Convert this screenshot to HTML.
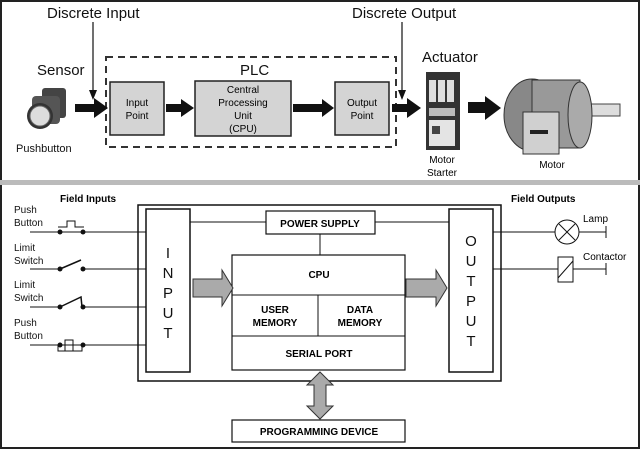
<!DOCTYPE html>
<html><head><style>
html,body{margin:0;padding:0;background:#fff;}
svg{display:block;font-family:"Liberation Sans",Arial,sans-serif;}
</style></head><body>
<svg width="640" height="449" viewBox="0 0 640 449" xmlns="http://www.w3.org/2000/svg">
<rect x="0" y="0" width="640" height="449" fill="#fff"/>
<rect x="1" y="1" width="638" height="447" fill="none" stroke="#222" stroke-width="2"/>
<rect x="0" y="180" width="640" height="5" fill="#bbb"/>
<!-- TOP PANEL -->
<text x="47" y="18" font-size="15" fill="#111">Discrete Input</text>
<text x="352" y="18" font-size="15" fill="#111">Discrete Output</text>
<line x1="93" y1="22" x2="93" y2="96" stroke="#111" stroke-width="1.2"/>
<polygon points="89,90 97,90 93,100" fill="#111"/>
<line x1="402" y1="22" x2="402" y2="96" stroke="#111" stroke-width="1.2"/>
<polygon points="398,90 406,90 402,100" fill="#111"/>
<text x="37" y="75" font-size="15" fill="#111">Sensor</text>
<text x="422" y="62" font-size="15" fill="#111">Actuator</text>
<text x="240" y="75" font-size="15" fill="#111">PLC</text>
<rect x="106" y="57" width="290" height="90" fill="none" stroke="#333" stroke-width="2" stroke-dasharray="7,5"/>
<rect x="110" y="82" width="54" height="53" fill="#d4d4d4" stroke="#222" stroke-width="1.5"/>
<text x="137" y="106" font-size="10" text-anchor="middle">Input</text>
<text x="137" y="119" font-size="10" text-anchor="middle">Point</text>
<rect x="195" y="81" width="96" height="55" fill="#d4d4d4" stroke="#222" stroke-width="1.5"/>
<text x="243" y="93" font-size="10" text-anchor="middle">Central</text>
<text x="243" y="106" font-size="10" text-anchor="middle">Processing</text>
<text x="243" y="119" font-size="10" text-anchor="middle">Unit</text>
<text x="243" y="132" font-size="10" text-anchor="middle">(CPU)</text>
<rect x="335" y="82" width="54" height="53" fill="#d4d4d4" stroke="#222" stroke-width="1.5"/>
<text x="362" y="106" font-size="10" text-anchor="middle">Output</text>
<text x="362" y="119" font-size="10" text-anchor="middle">Point</text>
<g fill="#111">
<rect x="75" y="104" width="20" height="8"/><polygon points="94,98 108,108 94,118"/>
<rect x="166" y="104" width="16" height="8"/><polygon points="181,99 194,108 181,117"/>
<rect x="293" y="104" width="30" height="8"/><polygon points="322,99 334,108 322,117"/>
<rect x="392" y="104" width="16" height="8"/><polygon points="407,98 421,108 407,118"/>
<rect x="468" y="102" width="18" height="11"/><polygon points="485,96 501,108 485,120"/>
</g>
<!-- pushbutton -->
<rect x="42" y="88" width="24" height="30" rx="3" fill="#444"/>
<rect x="32" y="96" width="28" height="28" rx="4" fill="#555"/>
<circle cx="40" cy="116" r="13" fill="#333"/>
<circle cx="40" cy="116" r="10" fill="#ddd" stroke="#666"/>
<text x="16" y="152" font-size="11" fill="#111">Pushbutton</text>
<!-- motor starter -->
<rect x="426" y="72" width="34" height="78" fill="#333"/>
<rect x="429" y="80" width="7" height="22" fill="#ddd"/>
<rect x="438" y="80" width="7" height="22" fill="#ddd"/>
<rect x="447" y="80" width="7" height="22" fill="#ddd"/>
<rect x="429" y="108" width="26" height="8" fill="#bbb"/>
<rect x="429" y="120" width="26" height="26" fill="#e4e4e4"/>
<rect x="432" y="126" width="8" height="8" fill="#444"/>
<text x="442" y="163" font-size="10" text-anchor="middle">Motor</text>
<text x="442" y="176" font-size="10" text-anchor="middle">Starter</text>
<!-- motor -->
<rect x="580" y="104" width="40" height="12" fill="#ddd" stroke="#444"/>
<ellipse cx="532" cy="115" rx="28" ry="36" fill="#888" stroke="#333"/>
<rect x="532" y="80" width="48" height="68" fill="#999" stroke="#333"/>
<ellipse cx="580" cy="115" rx="12" ry="33" fill="#aaa" stroke="#333"/>
<rect x="523" y="112" width="36" height="42" fill="#d0d0d0" stroke="#333"/>
<rect x="530" y="130" width="18" height="4" fill="#222"/>
<text x="552" y="168" font-size="10" text-anchor="middle">Motor</text>
<!-- BOTTOM PANEL -->
<text x="60" y="202" font-size="10" font-weight="bold">Field Inputs</text>
<text x="511" y="202" font-size="10" font-weight="bold">Field Outputs</text>
<rect x="138" y="205" width="363" height="176" fill="none" stroke="#111" stroke-width="1.5"/>
<rect x="146" y="209" width="44" height="163" fill="none" stroke="#111" stroke-width="1.5"/>
<rect x="449" y="209" width="44" height="163" fill="none" stroke="#111" stroke-width="1.5"/>
<g font-size="15" text-anchor="middle" fill="#111">
<text x="168" y="258">I</text><text x="168" y="278">N</text><text x="168" y="298">P</text><text x="168" y="318">U</text><text x="168" y="338">T</text>
<text x="471" y="246">O</text><text x="471" y="266">U</text><text x="471" y="286">T</text><text x="471" y="306">P</text><text x="471" y="326">U</text><text x="471" y="346">T</text>
</g>
<g stroke="#111" stroke-width="1" fill="none">
<line x1="190" y1="222" x2="266" y2="222"/><line x1="375" y1="222" x2="449" y2="222"/>
<line x1="320" y1="234" x2="320" y2="255"/>
</g>
<rect x="266" y="211" width="109" height="23" fill="#fff" stroke="#111" stroke-width="1.2"/>
<text x="320" y="227" font-size="10" font-weight="bold" text-anchor="middle">POWER SUPPLY</text>
<rect x="232" y="255" width="173" height="115" fill="#fff" stroke="#111" stroke-width="1.2"/>
<line x1="232" y1="295" x2="405" y2="295" stroke="#111"/>
<line x1="232" y1="336" x2="405" y2="336" stroke="#111"/>
<line x1="318" y1="295" x2="318" y2="336" stroke="#111"/>
<g font-size="10" font-weight="bold" text-anchor="middle">
<text x="319" y="278">CPU</text>
<text x="275" y="313">USER</text><text x="275" y="326">MEMORY</text>
<text x="360" y="313">DATA</text><text x="360" y="326">MEMORY</text>
<text x="319" y="357">SERIAL PORT</text>
</g>
<g fill="#aaa" stroke="#333" stroke-width="1">
<polygon points="193,279 222,279 222,270 233,288 222,306 222,297 193,297"/>
<polygon points="406,279 436,279 436,270 447,288 436,306 436,297 406,297"/>
<polygon points="320,372 333,385 326,385 326,406 333,406 320,419 307,406 314,406 314,385 307,385"/>
</g>
<rect x="232" y="420" width="173" height="22" fill="#fff" stroke="#111" stroke-width="1.2"/>
<text x="319" y="435" font-size="10" font-weight="bold" text-anchor="middle">PROGRAMMING DEVICE</text>
<g font-size="10" fill="#111">
<text x="14" y="213">Push</text><text x="14" y="226">Button</text>
<text x="14" y="251">Limit</text><text x="14" y="264">Switch</text>
<text x="14" y="288">Limit</text><text x="14" y="301">Switch</text>
<text x="14" y="326">Push</text><text x="14" y="339">Button</text>
</g>
<g stroke="#111" stroke-width="1" fill="none">
<line x1="30" y1="232" x2="146" y2="232"/>
<line x1="30" y1="269" x2="58" y2="269"/><line x1="83" y1="269" x2="146" y2="269"/>
<line x1="30" y1="307" x2="58" y2="307"/><line x1="83" y1="307" x2="146" y2="307"/>
<line x1="30" y1="345" x2="146" y2="345"/>
<polyline points="58,227 67,227 67,221 75,221 75,227 84,227"/>
<line x1="60" y1="269" x2="81" y2="260" stroke-width="1.5"/>
<polyline points="60,307 81,297 82,307" stroke-width="1.5"/>
<polyline points="58,345 58,351 82,351 82,345"/>
<polyline points="65,351 65,340 73,340 73,351"/>
</g>
<g fill="#111">
<circle cx="60" cy="232" r="2.5"/><circle cx="83" cy="232" r="2.5"/>
<circle cx="60" cy="269" r="2.5"/><circle cx="83" cy="269" r="2.5"/>
<circle cx="60" cy="307" r="2.5"/><circle cx="83" cy="307" r="2.5"/>
<circle cx="60" cy="345" r="2.5"/><circle cx="83" cy="345" r="2.5"/>
</g>
<g stroke="#111" stroke-width="1" fill="none">
<line x1="493" y1="232" x2="555" y2="232"/><line x1="579" y1="232" x2="606" y2="232"/>
<line x1="606" y1="226" x2="606" y2="238"/>
<circle cx="567" cy="232" r="12"/>
<line x1="559" y1="224" x2="575" y2="240"/><line x1="575" y1="224" x2="559" y2="240"/>
<line x1="493" y1="269" x2="558" y2="269"/><line x1="573" y1="269" x2="606" y2="269"/>
<line x1="606" y1="263" x2="606" y2="275"/>
<rect x="558" y="257" width="15" height="25"/>
<line x1="558" y1="278" x2="573" y2="261"/>
</g>
<text x="583" y="222" font-size="10">Lamp</text>
<text x="583" y="260" font-size="10">Contactor</text>
</svg>
</body></html>
